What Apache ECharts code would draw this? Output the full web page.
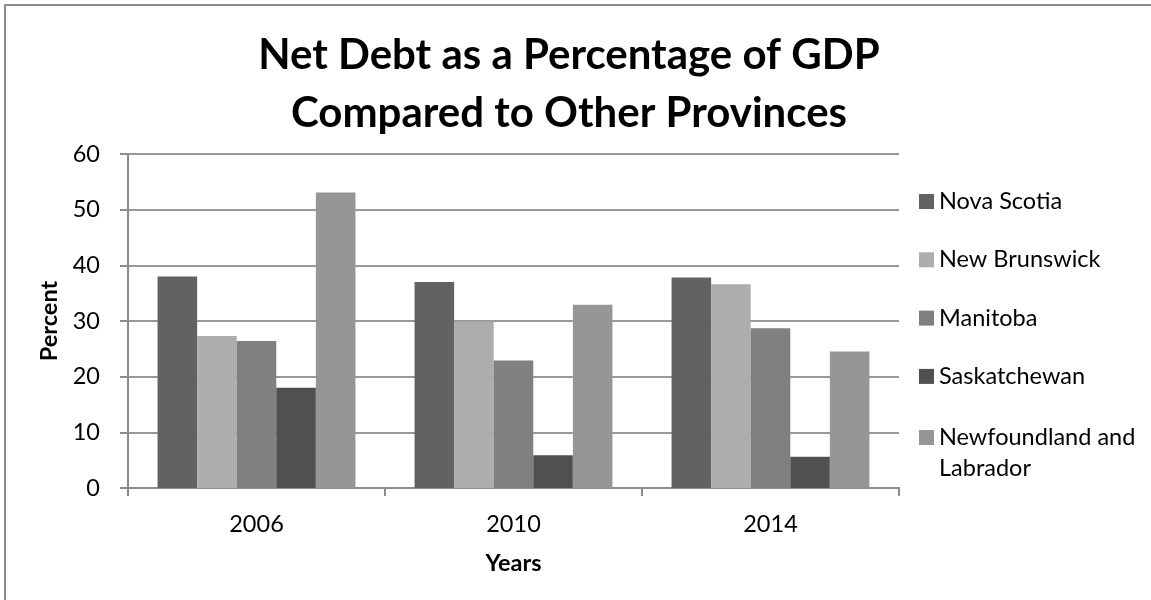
<!DOCTYPE html>
<html>
<head>
<meta charset="utf-8">
<script src="https://cdn.jsdelivr.net/npm/echarts@6/dist/echarts.min.js"></script>
<style>
  html, body { margin: 0; padding: 0; background: #fff; }
  #chart { width: 1151px; height: 600px; }
</style>
</head>
<body>
<div id="chart"></div>
<script>
// data
var years = ['2006', '2010', '2014'];
var provinces = ['Nova Scotia', 'New Brunswick', 'Manitoba', 'Saskatchewan', 'Newfoundland and Labrador'];
var novaScotia = [38.0, 37.0, 37.8];
var newBrunswick = [27.3, 29.9, 36.6];
var manitoba = [26.4, 22.9, 28.7];
var saskatchewan = [18.0, 5.9, 5.6];
var newfoundland = [53.1, 32.9, 24.5];
var yTicks = [0, 10, 20, 30, 40, 50, 60];

var values = [novaScotia, newBrunswick, manitoba, saskatchewan, newfoundland];
var colors = ['#626262', '#adadad', '#808080', '#505050', '#969696'];
var font = 'Lato, "Open Sans", sans-serif';
var labelSize = 23.5;

var series = provinces.map(function (name, i) {
    return {
        name: name,
        type: 'bar',
        data: values[i],
        barGap: 0,
        barCategoryGap: '23%',
        itemStyle: { color: colors[i] }
    };
});

var legendText = { fontFamily: font, fontSize: labelSize, color: '#000' };

var option = {
    animation: false,
    color: colors,
    title: {
        text: 'Net Debt as a Percentage of GDP\nCompared to Other Provinces',
        left: 564,
        top: 21,
        textAlign: 'center',
        textStyle: {
            fontFamily: font,
            fontWeight: 'bold',
            fontSize: 42,
            lineHeight: 58,
            color: '#000'
        }
    },
    graphic: [{
        type: 'rect',
        shape: { x: 5, y: 5, width: 1300, height: 800 },
        style: { fill: 'none', stroke: '#8a8a8a', lineWidth: 2 },
        silent: true
    }],
    legend: [{
        orient: 'vertical',
        left: 914,
        top: 182,
        itemWidth: 15,
        itemHeight: 15,
        itemGap: 29.3,
        icon: 'rect',
        data: provinces.slice(0, 4),
        textStyle: Object.assign({ lineHeight: 29 }, legendText)
    }, {
        // last entry wraps onto two lines, first line level with the swatch
        orient: 'vertical',
        left: 914,
        top: 386,
        itemWidth: 15,
        itemHeight: 15,
        icon: 'rect',
        data: provinces.slice(4),
        formatter: function () {
            return '{e| }\n{a|Newfoundland and}\n{a|Labrador}';
        },
        textStyle: Object.assign({
            lineHeight: 31,
            rich: {
                e: Object.assign({ lineHeight: 31 }, legendText),
                a: Object.assign({ lineHeight: 31 }, legendText)
            }
        }, legendText)
    }],
    grid: {
        left: 128,
        right: 252,
        top: 154,
        bottom: 112,
        containLabel: false
    },
    xAxis: {
        type: 'category',
        data: years,
        name: 'Years',
        nameLocation: 'middle',
        nameGap: 63,
        nameTextStyle: { fontFamily: font, fontWeight: 'bold', fontSize: labelSize, color: '#000' },
        axisLine: { lineStyle: { color: '#8c8c8c', width: 2 } },
        axisTick: { show: true, length: 8, lineStyle: { color: '#8c8c8c', width: 2 } },
        axisLabel: { fontFamily: font, fontSize: labelSize, color: '#000', margin: 24 }
    },
    yAxis: {
        type: 'value',
        min: yTicks[0],
        max: yTicks[yTicks.length - 1],
        interval: 10,
        name: 'Percent',
        nameLocation: 'middle',
        nameRotate: 90,
        nameGap: 62,
        nameTextStyle: { fontFamily: font, fontWeight: 'bold', fontSize: labelSize, color: '#000' },
        axisLine: { show: true, lineStyle: { color: '#8c8c8c', width: 2 } },
        axisTick: { show: true, length: 8, lineStyle: { color: '#8c8c8c', width: 2 } },
        axisLabel: { fontFamily: font, fontSize: labelSize, color: '#000', margin: 28 },
        splitLine: { show: true, lineStyle: { color: '#999999', width: 2 } }
    },
    series: series
};

var chart = echarts.init(document.getElementById('chart'));
chart.setOption(option);
</script>
</body>
</html>
